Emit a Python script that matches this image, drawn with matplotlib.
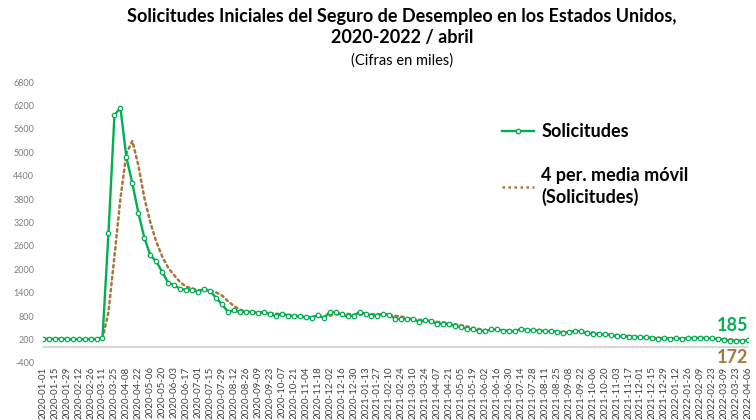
import numpy as np
import pandas as pd
import matplotlib
matplotlib.use("Agg")
import matplotlib.pyplot as plt
from matplotlib.lines import Line2D

plt.rcParams['font.family'] = ['Lato', 'DejaVu Sans']

# ================================================================
# DATA — weekly initial claims (thousands)
# ================================================================
fechas = pd.date_range('2020-01-01', periods=119, freq='7D')
solicitudes = [
    215, 220, 212, 225, 212, 205, 210, 208, 215, 210,
    250, 2920, 5950, 6140, 4870, 4200, 3450, 2810, 2360, 2200,
    1930, 1650, 1600, 1490, 1480, 1460, 1420, 1500, 1440, 1270,
    1100, 910, 950, 900, 910, 905, 880, 900, 850, 800,
    866, 815, 800, 790, 765, 760, 823, 756, 900, 900,
    841, 797, 815, 900, 866, 815, 815, 857, 830, 730,
    730, 713, 730, 644, 687, 670, 602, 602, 602, 541,
    516, 474, 456, 430, 413, 456, 456, 430, 420, 405,
    474, 439, 439, 430, 413, 413, 397, 372, 388, 413,
    413, 354, 345, 337, 328, 319, 285, 285, 276, 268,
    260, 255, 240, 220, 235, 225, 230, 225, 235, 240,
    245, 240, 230, 215, 195, 170, 170, 163, 185,
]
etiquetas_x = [d.strftime('%Y-%m-%d') for d in fechas]
ticks_y = [-400, 200, 800, 1400, 2000, 2600, 3200, 3800, 4400, 5000, 5600, 6200, 6800]

ultimo_valor = '185'
ultima_media = '172'

VERDE = '#00b050'
CAFE = '#a8773f'

serie = pd.Series(solicitudes, dtype=float)
media_movil = serie.rolling(4).mean()
x = np.arange(len(serie))

# ================================================================
# FIGURE
# ================================================================
fig = plt.figure(figsize=(7.56, 4.2), dpi=100)
ax = fig.add_axes([0.0565, 0.136, 0.933, 0.6685])

ax.plot(x, media_movil, color=CAFE, lw=1.8, linestyle=(0, (1, 1.4)),
        dash_capstyle='round', zorder=2)
ax.plot(x, serie, color=VERDE, lw=1.7, marker='o', ms=3.2, mfc='white',
        mec=VERDE, mew=0.9, zorder=3)

ax.axhline(0, color='#d9d9d9', lw=1.6, zorder=1)

ax.set_xlim(0, len(serie) - 1)
ax.set_ylim(-400, 6800)
ax.set_yticks(ticks_y)
ax.set_yticklabels([str(t) for t in ticks_y], fontsize=6.5, color='#7f7f7f')
ax.set_xticks(x[::2])
ax.set_xticklabels(etiquetas_x[::2], rotation=90, fontsize=7, color='#404040')
ax.tick_params(axis='both', length=0)
ax.tick_params(axis='x', pad=2.5)
ax.tick_params(axis='y', pad=6)
for s in ax.spines.values():
    s.set_visible(False)

# Legend
h1 = Line2D([], [], color=VERDE, lw=1.7, marker='o', ms=3.2, mfc='white', mec=VERDE)
h2 = Line2D([], [], color=CAFE, lw=1.8, linestyle=(0, (1, 1.4)))
fig.legend([h1, h2], ['Solicitudes', '4 per. media móvil\n(Solicitudes)'],
           loc='upper left', bbox_to_anchor=(0.642, 0.745), frameon=False,
           prop={'weight': 'bold', 'size': 13}, handlelength=1.8,
           labelspacing=1.5, handletextpad=0.4)

# End labels
ax.text(1.0, 330, ultimo_valor, transform=ax.get_yaxis_transform(),
        ha='right', va='bottom', fontsize=13, fontweight='bold', color=VERDE)
ax.text(1.0, -40, ultima_media, transform=ax.get_yaxis_transform(),
        ha='right', va='top', fontsize=13, fontweight='bold', color=CAFE)

# Titles
fig.text(0.532, 0.982, 'Solicitudes Iniciales del Seguro de Desempleo en los Estados Unidos,\n2020-2022 / abril',
         ha='center', va='top', fontsize=13, fontweight='bold', linespacing=1.35)
fig.text(0.532, 0.872, '(Cifras en miles)', ha='center', va='top', fontsize=10.5)

fig.savefig('out.png', dpi=100)
